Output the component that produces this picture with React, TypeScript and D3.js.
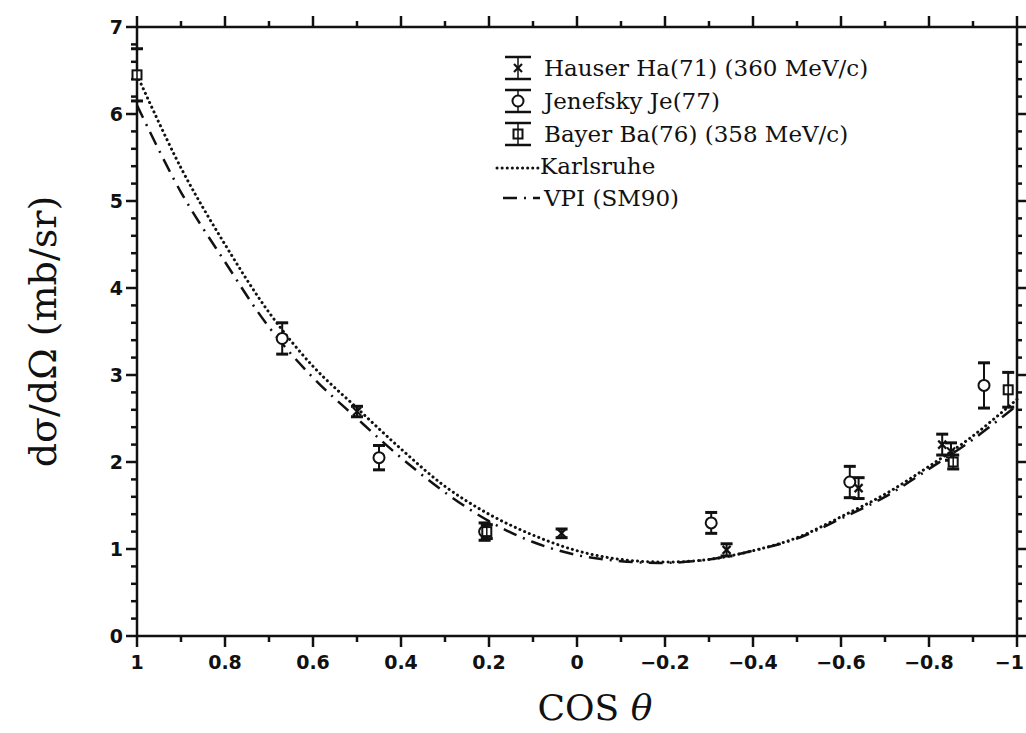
import React from "react";
import * as d3 from "d3";

const W = 1026;
const H = 733;

// Curves (cos theta, dsigma/dOmega)
const curveX = [1, 0.9, 0.8, 0.7, 0.6, 0.5, 0.4, 0.3, 0.2, 0.1, 0, -0.1, -0.2, -0.3, -0.4, -0.5, -0.6, -0.7, -0.8, -0.9, -1];
const karlsruheY = [6.45, 5.38, 4.5, 3.72, 3.1, 2.62, 2.15, 1.72, 1.4, 1.16, 0.98, 0.88, 0.85, 0.88, 0.98, 1.13, 1.37, 1.63, 1.95, 2.3, 2.72];
const vpiY = [6.1, 5.1, 4.3, 3.55, 2.97, 2.5, 2.05, 1.65, 1.32, 1.08, 0.93, 0.86, 0.84, 0.88, 0.98, 1.12, 1.35, 1.6, 1.92, 2.26, 2.65];

// Data points
const hauserX = [0.5, 0.035, -0.34, -0.64, -0.83, -0.85];
const hauserY = [2.58, 1.18, 0.99, 1.7, 2.2, 2.12];
const hauserErr = [0.06, 0.05, 0.07, 0.12, 0.12, 0.1];

const jenefskyX = [0.67, 0.45, 0.21, -0.305, -0.62, -0.925];
const jenefskyY = [3.42, 2.05, 1.2, 1.3, 1.77, 2.88];
const jenefskyErr = [0.18, 0.14, 0.1, 0.12, 0.18, 0.26];

const bayerX = [1, 0.205, -0.855, -0.98];
const bayerY = [6.45, 1.2, 2.0, 2.83];
const bayerErr = [0.3, 0.08, 0.08, 0.2];

const xMajor = [1, 0.8, 0.6, 0.4, 0.2, 0, -0.2, -0.4, -0.6, -0.8, -1];
const xMajorLabels = ["1", "0.8", "0.6", "0.4", "0.2", "0", "\u22120.2", "\u22120.4", "\u22120.6", "\u22120.8", "\u22121"];
const yMajor = [0, 1, 2, 3, 4, 5, 6, 7];

const legendLabels = ["Hauser Ha(71) (360 MeV/c)", "Jenefsky Je(77)", "Bayer Ba(76) (358 MeV/c)", "Karlsruhe", "VPI (SM90)"];

const left = 137, right = 1017, top = 27, bottom = 636;

export default function App() {
  const x = d3.scaleLinear().domain([1, -1]).range([left, right]);
  const y = d3.scaleLinear().domain([0, 7]).range([bottom, top]);

  const line = d3
    .line<[number, number]>()
    .x((d) => x(d[0]))
    .y((d) => y(d[1]))
    .curve(d3.curveCatmullRom.alpha(0.5));

  const kData: [number, number][] = curveX.map((c, i) => [c, karlsruheY[i]]);
  const vData: [number, number][] = curveX.map((c, i) => [c, vpiY[i]]);

  const xMinor = d3.range(-10, 11).map((i) => i / 10).filter((v) => !xMajor.some((m) => Math.abs(m - v) < 1e-6));
  const yMinor = d3.range(0, 36).map((i) => i / 5).filter((v) => !yMajor.some((m) => Math.abs(m - v) < 1e-6));

  const stroke = "#111";
  const font = "'DejaVu Serif', 'Liberation Serif', serif";
  const tickFont = "'DejaVu Sans', 'Liberation Sans', sans-serif";

  const errBar = (cx: number, cy: number, e: number, key: string) => {
    const px = x(cx);
    return (
      <g key={key} stroke={stroke} strokeWidth={2}>
        <line x1={px} x2={px} y1={y(cy + e)} y2={y(cy - e)} />
        <line x1={px - 6} x2={px + 6} y1={y(cy + e)} y2={y(cy + e)} strokeWidth={3} />
        <line x1={px - 6} x2={px + 6} y1={y(cy - e)} y2={y(cy - e)} strokeWidth={3} />
      </g>
    );
  };

  const hauserMark = (px: number, py: number, key: string) => (
    <g key={key} stroke={stroke} strokeWidth={2.2} fill="none">
      <line x1={px - 4} x2={px + 4} y1={py - 4} y2={py + 4} />
      <line x1={px + 4} x2={px - 4} y1={py - 4} y2={py + 4} />
    </g>
  );
  const circleMark = (px: number, py: number, key: string) => (
    <circle key={key} cx={px} cy={py} r={5.5} fill="white" stroke={stroke} strokeWidth={2} />
  );
  const squareMark = (px: number, py: number, key: string) => (
    <g key={key}>
      <rect x={px - 4.5} y={py - 4.5} width={9} height={9} fill="white" stroke={stroke} strokeWidth={2} />
      <line x1={px} x2={px} y1={py - 4.5} y2={py + 4.5} stroke={stroke} strokeWidth={1.5} />
    </g>
  );

  const legendX = 518;
  const legendYs = [68, 101, 134, 166, 198];

  return (
    <svg width={W} height={H} style={{ position: "absolute", left: 0, top: 0, background: "white" }}>
      {/* axes frame */}
      <g stroke={stroke} strokeWidth={2.5} fill="none">
        <line x1={left} x2={right} y1={bottom} y2={bottom} />
        <line x1={left} x2={right} y1={top} y2={top} />
        <line x1={left} x2={left} y1={top} y2={bottom} />
        <line x1={right} x2={right} y1={top} y2={bottom} />
      </g>
      {/* ticks */}
      <g stroke={stroke} strokeWidth={2.5}>
        {xMajor.map((v) => (
          <g key={"xm" + v}>
            <line x1={x(v)} x2={x(v)} y1={bottom} y2={bottom + 11} />
            <line x1={x(v)} x2={x(v)} y1={top} y2={top - 11} />
          </g>
        ))}
        {xMinor.map((v) => (
          <g key={"xn" + v}>
            <line x1={x(v)} x2={x(v)} y1={bottom} y2={bottom + 6} />
            <line x1={x(v)} x2={x(v)} y1={top} y2={top - 6} />
          </g>
        ))}
        {yMajor.map((v) => (
          <g key={"ym" + v}>
            <line x1={left} x2={left - 11} y1={y(v)} y2={y(v)} />
            <line x1={right} x2={right + 9} y1={y(v)} y2={y(v)} />
          </g>
        ))}
        {yMinor.map((v) => (
          <g key={"yn" + v}>
            <line x1={left} x2={left - 6} y1={y(v)} y2={y(v)} />
            <line x1={right} x2={right + 5} y1={y(v)} y2={y(v)} />
          </g>
        ))}
      </g>
      {/* tick labels */}
      <g fontFamily={tickFont} fontWeight="bold" fontSize={19} fill={stroke}>
        {xMajor.map((v, i) => (
          <text
            key={"xl" + v}
            x={i === xMajor.length - 1 ? W - 2 : x(v)}
            y={bottom + 33}
            textAnchor={i === xMajor.length - 1 ? "end" : "middle"}
          >
            {xMajorLabels[i]}
          </text>
        ))}
        {yMajor.map((v) => (
          <text key={"yl" + v} x={left - 14} y={y(v) + 7} textAnchor="end">
            {v}
          </text>
        ))}
      </g>
      {/* axis titles */}
      <text
        transform={`translate(56, ${(top + bottom) / 2}) rotate(-90)`}
        textAnchor="middle"
        fontFamily={font}
        fontSize={38}
        fill={stroke}
      >
        dσ/dΩ (mb/sr)
      </text>
      <text x={595} y={720} textAnchor="middle" fontFamily={font} fontSize={36} fill={stroke}>
        COS <tspan fontStyle="italic">θ</tspan>
      </text>
      {/* curves */}
      <path d={line(kData) || ""} fill="none" stroke={stroke} strokeWidth={3} strokeDasharray="0.1 5" strokeLinecap="round" />
      <path d={line(vData) || ""} fill="none" stroke={stroke} strokeWidth={2.5} strokeDasharray="14 7 2 7" />
      {/* data */}
      {hauserX.map((v, i) => (
        <g key={"h" + i}>
          {errBar(v, hauserY[i], hauserErr[i], "he" + i)}
          {hauserMark(x(v), y(hauserY[i]), "hm" + i)}
        </g>
      ))}
      {jenefskyX.map((v, i) => (
        <g key={"j" + i}>
          {errBar(v, jenefskyY[i], jenefskyErr[i], "je" + i)}
          {circleMark(x(v), y(jenefskyY[i]), "jm" + i)}
        </g>
      ))}
      {bayerX.map((v, i) => (
        <g key={"b" + i}>
          {errBar(v, bayerY[i], bayerErr[i], "be" + i)}
          {squareMark(x(v), y(bayerY[i]), "bm" + i)}
        </g>
      ))}
      {/* legend */}
      <g>
        {[0, 1, 2].map((i) => {
          const cy = legendYs[i];
          return (
            <g key={"lg" + i} stroke={stroke} strokeWidth={2.5}>
              <line x1={legendX - 13} x2={legendX + 13} y1={cy - 11} y2={cy - 11} />
              <line x1={legendX - 13} x2={legendX + 13} y1={cy + 11} y2={cy + 11} />
              <line x1={legendX} x2={legendX} y1={cy - 11} y2={cy + 11} strokeWidth={1.5} />
              {i === 0 && hauserMark(legendX, cy, "lh")}
              {i === 1 && circleMark(legendX, cy, "lc")}
              {i === 2 && squareMark(legendX, cy, "ls")}
            </g>
          );
        })}
        <line x1={497} x2={538} y1={legendYs[3] + 2} y2={legendYs[3] + 2} stroke={stroke} strokeWidth={3} strokeDasharray="0.1 5" strokeLinecap="round" />
        <line x1={503} x2={540} y1={legendYs[4]} y2={legendYs[4]} stroke={stroke} strokeWidth={2.5} strokeDasharray="14 7 2 7" />
        <g fontFamily={font} fontSize={23} fill={stroke}>
          {legendLabels.map((t, i) => (
            <text key={"lt" + i} x={i === 3 ? 540 : 544} y={legendYs[i] + 8}>
              {t}
            </text>
          ))}
        </g>
      </g>
    </svg>
  );
}
